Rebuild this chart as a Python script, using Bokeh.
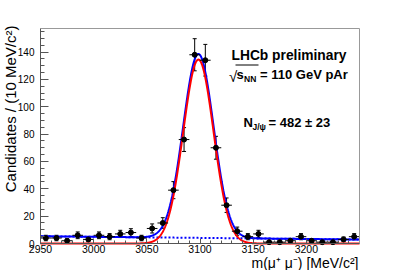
import numpy as np
from bokeh.plotting import figure
from bokeh.models import Label, Whisker, TeeHead, ColumnDataSource, FixedTicker, Range1d, LinearAxis
from bokeh.embed import file_html
from bokeh.resources import INLINE

# ---------------- data ----------------
bin_centers = [2955, 2965, 2975, 2985, 2995, 3005, 3015, 3025, 3035, 3045,
               3055, 3065, 3075, 3085, 3095, 3105, 3115, 3125, 3135, 3145,
               3155, 3165, 3175, 3185, 3195, 3205, 3215, 3225, 3235, 3245]
counts = [4, 4, 2, 6, 3, 6, 5, 7, 8, 4,
          11, 15, 39, 76, 138, 134, 70, 28, 9, 5,
          7, 1, 1, 2, 5, 2, 1, 1, 3, 5]
bin_width = 10.0

# fit result (signal Gaussian + linear background)
sig_yield = 482
sig_mean = 3098.5
sig_sigma = 14.3
bkg_at_low = 5.3
bkg_at_high = 2.9

x_ticks = [2950, 3000, 3050, 3100, 3150, 3200]
y_ticks = [0, 20, 40, 60, 80, 100, 120, 140]

X0, X1 = 2950, 3250
Y0, Y1 = 0, 157.2

# ---------------- derived ----------------
m = np.array(bin_centers, dtype=float)
n = np.array(counts, dtype=float)
err = np.sqrt(n)
src = ColumnDataSource(dict(x=m, y=n, lo=n - err, hi=n + err,
                            xl=m - bin_width / 2, xh=m + bin_width / 2))

grid = np.linspace(X0, X1, 1201)
signal = sig_yield * bin_width / (np.sqrt(2 * np.pi) * sig_sigma) * \
    np.exp(-0.5 * ((grid - sig_mean) / sig_sigma) ** 2)
bkg = bkg_at_low + (bkg_at_high - bkg_at_low) * (grid - X0) / (X1 - X0)
total = signal + bkg

# ---------------- layout geometry (canvas pixels) ----------------
W, H = 399, 270                      # canvas size (Bokeh page has no body margin)
FL, FT, FR, FB = 40, 28, 359, 243    # data area
sx = (X1 - X0) / (FR - FL)
sy = (Y1 - Y0) / (FB - FT)
xr = Range1d(X0 - FL * sx, X1 + (W - FR) * sx)
yr = Range1d(Y0 - (H - FB) * sy, Y1 + FT * sy)

def px2x(px):
    return X0 + (px - FL) * sx

def py2y(py):
    return Y0 + (FB - py) * sy

p = figure(width=W, height=H, output_backend="svg", toolbar_location=None,
           x_range=xr, y_range=yr,
           min_border_left=0, min_border_right=0, min_border_top=0, min_border_bottom=0)
p.grid.visible = False
p.outline_line_color = None
p.background_fill_color = "white"
p.border_fill_color = "white"

FONT = "Liberation Sans"
AX = "#555555"

xa = p.xaxis[0]
xa.fixed_location = Y0
xa.bounds = (X0, X1)
xa.ticker = FixedTicker(ticks=x_ticks, minor_ticks=list(range(2950, 3251, 10)))
xa.major_tick_in = 5
xa.major_tick_out = 0
xa.minor_tick_in = 3
xa.minor_tick_out = 0
xa.axis_line_color = AX
xa.major_tick_line_color = AX
xa.minor_tick_line_color = AX
xa.major_label_text_font = FONT
xa.major_label_text_font_size = "10.5px"
xa.major_label_text_color = "black"
xa.major_label_standoff = 1

ya = p.yaxis[0]
ya.fixed_location = X0
ya.bounds = (Y0, Y1)
ya.ticker = FixedTicker(ticks=y_ticks, minor_ticks=list(range(0, 156, 5)))
ya.major_tick_in = 8
ya.major_tick_out = 0
ya.minor_tick_in = 4
ya.minor_tick_out = 0
ya.axis_line_color = AX
ya.major_tick_line_color = AX
ya.minor_tick_line_color = AX
ya.major_label_text_font = "Liberation Sans Narrow, Liberation Sans"
ya.major_label_text_font_size = "10px"
ya.major_label_text_color = "black"
ya.major_label_standoff = 6

for place, loc, bnd in (("right", X1, (Y0, Y1)), ("above", Y1, (X0, X1))):
    ax = LinearAxis(fixed_location=loc, bounds=bnd, axis_line_color="#999999",
                    major_tick_line_color=None, minor_tick_line_color=None,
                    major_label_text_font_size="0px", major_label_text_color=None)
    p.add_layout(ax, place)

# ---------------- glyphs ----------------
p.line(grid, bkg, line_color="blue", line_width=2, line_dash="2 2")
p.line(grid, total, line_color="blue", line_width=2)
p.line(grid, signal, line_color="red", line_width=2)

p.segment(x0="xl", x1="xh", y0="y", y1="y", source=src, line_color="black", line_width=1)
p.add_layout(Whisker(source=src, base="x", upper="hi", lower="lo", dimension="height",
                     line_color="black", line_width=1,
                     upper_head=TeeHead(size=4, line_color="black", line_width=1),
                     lower_head=TeeHead(size=4, line_color="black", line_width=1)))
p.scatter("x", "y", source=src, size=5, color="black")

# ---------------- texts ----------------
def lab(text, px, py, size, bold=False, align="left", baseline="alphabetic", angle=0.0, font=FONT):
    p.add_layout(Label(x=px2x(px), y=py2y(py), text=text, text_font=font,
                       text_font_size=size, text_font_style="bold" if bold else "normal",
                       text_align=align, text_baseline=baseline, angle=angle,
                       text_color="black"))

lab("Candidates / (10 MeV/c²)", 1, 25, "15px", align="right", baseline="top", angle=np.pi / 2)
lab("m(μ⁺ μ⁻) [MeV/c²]", 358, 262, "14px", align="right")

lab("LHCb preliminary", 231, 55, "13.8px", bold=True)

lab("√", 228.5, 76, "15px")
lab("s", 236, 74, "13px", bold=True)
lab("NN", 243.5, 78, "8.5px", bold=True)
lab("= 110 GeV pAr", 259.5, 74, "13px", bold=True)
p.segment(x0=[px2x(235)], x1=[px2x(258)], y0=[py2y(64.5)], y1=[py2y(64.5)],
          line_color="black", line_width=1)

lab("N", 243, 122, "13px", bold=True)
lab("J/ψ", 252, 126, "8.5px", bold=True)
lab("= 482 ± 23", 268, 122, "13px", bold=True)

open("out.html", "w").write(file_html(p, INLINE))
